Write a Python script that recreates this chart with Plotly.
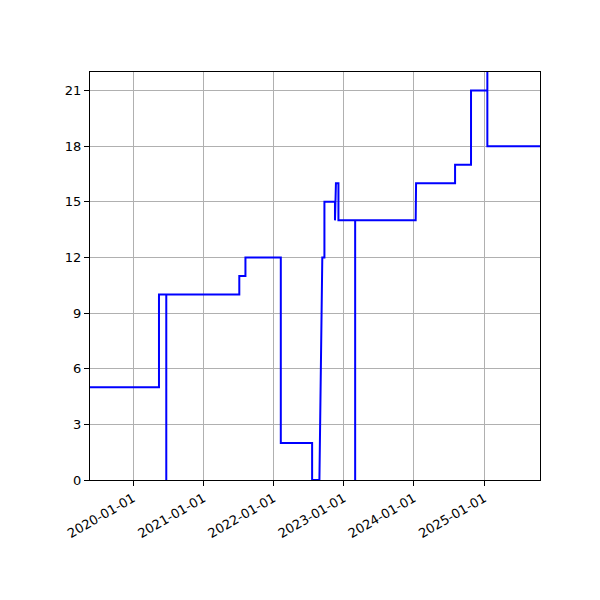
import plotly.graph_objects as go

# Points of the series (date, value)
dates = [
    "2019-05-22", "2020-05-15", "2020-05-15", "2020-06-22", "2020-06-22", "2020-06-22",
    "2021-07-07", "2021-07-07", "2021-08-08", "2021-08-08", "2022-02-08", "2022-02-08",
    "2022-07-21", "2022-07-21", "2022-08-28", "2022-09-12", "2022-09-23", "2022-09-23",
    "2022-11-17", "2022-11-17", "2022-11-22", "2022-12-05", "2022-12-05", "2023-03-02",
    "2023-03-02", "2023-03-02", "2024-01-11", "2024-01-13", "2024-08-03", "2024-08-03",
    "2024-10-25", "2024-10-25", "2025-01-18", "2025-01-18", "2025-01-18", "2025-10-19",
]
values = [
    5, 5, 10, 10, 0, 10,
    10, 11, 11, 12, 12, 2,
    2, 0, 0, 12, 12, 15,
    15, 14, 16, 16, 14, 14,
    0, 14, 14, 16, 16, 17,
    17, 21, 21, 24, 18, 18,
]

y_ticks = [0, 3, 6, 9, 12, 15, 18, 21]
x_ticks = ["2020-01-01", "2021-01-01", "2022-01-01", "2023-01-01", "2024-01-01", "2025-01-01"]

fig = go.Figure()
fig.add_trace(go.Scatter(
    x=dates, y=values, mode="lines",
    line=dict(color="blue", width=2, simplify=False),
    showlegend=False,
))

axis_style = dict(
    showline=True, linecolor="black", linewidth=1, mirror=True,
    ticks="outside", ticklen=5, tickcolor="black",
    showgrid=True, gridcolor="#b0b0b0", gridwidth=1, zeroline=False,
    tickfont=dict(family="DejaVu Sans", size=13, color="black"),
)

# the page adds a few px of padding, so the margins are shifted to compensate
fig.update_layout(
    width=600, height=600,
    margin=dict(l=82, r=68, t=64, b=128),
    paper_bgcolor="white", plot_bgcolor="white",
    xaxis=dict(
        range=["2019-05-22", "2025-10-19"],
        tickvals=x_ticks, ticktext=x_ticks, tickangle=-30,
        **axis_style,
    ),
    yaxis=dict(range=[0, 22], tickvals=y_ticks, **axis_style),
)

fig.write_html("out.html")
